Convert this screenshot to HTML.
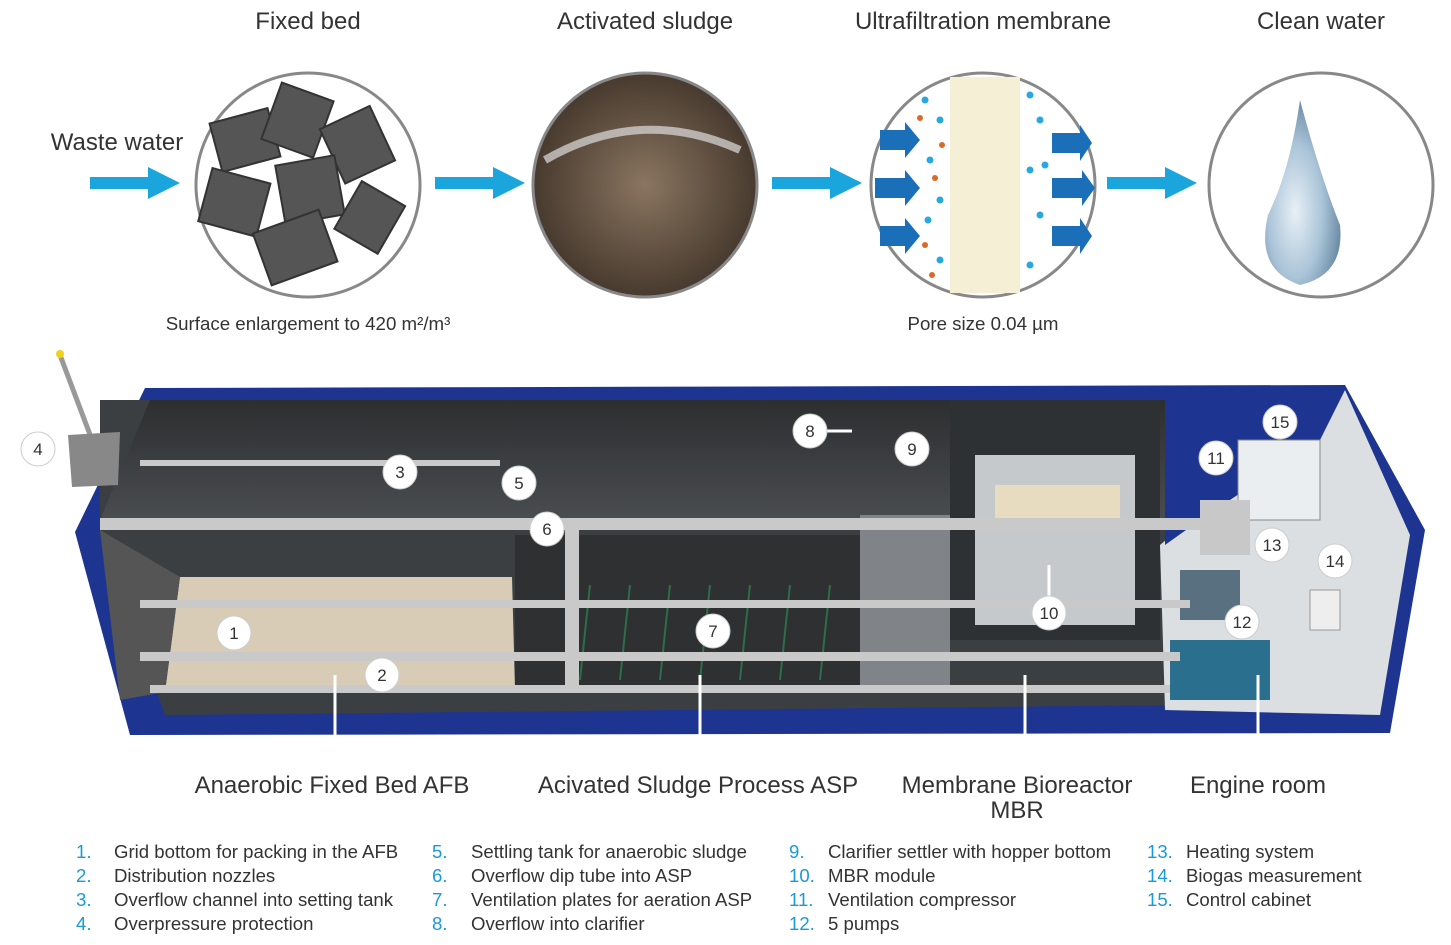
<!DOCTYPE html>
<html><head><meta charset="utf-8"><style>
body{margin:0;background:#fff;width:1451px;height:945px;overflow:hidden;font-family:"Liberation Sans",sans-serif;color:#333}
svg{position:absolute;left:0;top:0}
.t{font-family:"Liberation Sans",sans-serif;fill:#333}
</style></head><body>
<svg width="1451" height="945" viewBox="0 0 1451 945">
<defs>
<radialGradient id="sl" cx="50%" cy="50%" r="60%"><stop offset="0" stop-color="#8a7560"/><stop offset="1" stop-color="#3a2e24"/></radialGradient>
<radialGradient id="dr" cx="40%" cy="60%" r="60%"><stop offset="0" stop-color="#e8f0f6"/><stop offset="0.6" stop-color="#aac4d8"/><stop offset="1" stop-color="#6e8ea8"/></radialGradient>
<linearGradient id="back" x1="0" y1="0" x2="0" y2="1"><stop offset="0" stop-color="#2c2e30"/><stop offset="1" stop-color="#4a4d50"/></linearGradient>
</defs>
<g class="t" font-size="24" text-anchor="middle">
<text x="308" y="29">Fixed bed</text>
<text x="645" y="29">Activated sludge</text>
<text x="983" y="29">Ultrafiltration membrane</text>
<text x="1321" y="29">Clean water</text>
<text x="117" y="150">Waste water</text>
</g>
<g class="t" font-size="18.7" text-anchor="middle">
<text x="308" y="330">Surface enlargement to 420 m²/m³</text>
<text x="983" y="330">Pore size 0.04 µm</text>
</g>
<g fill="#1aa6dc">
<polygon points="90,177 148,177 148,167 180,183 148,199 148,189 90,189"/>
<polygon points="435,177 493,177 493,167 525,183 493,199 493,189 435,189"/>
<polygon points="772,177 830,177 830,167 862,183 830,199 830,189 772,189"/>
<polygon points="1107,177 1165,177 1165,167 1197,183 1165,199 1165,189 1107,189"/>
</g>
<circle cx="308" cy="185" r="112" fill="#fff" stroke="#888" stroke-width="3"/>
<g fill="#555" stroke="#333" stroke-width="2">
<rect x="215" y="115" width="60" height="50" transform="rotate(-15 245 140)"/>
<rect x="270" y="90" width="55" height="60" transform="rotate(20 297 120)"/>
<rect x="330" y="115" width="55" height="60" transform="rotate(-25 357 145)"/>
<rect x="205" y="175" width="60" height="55" transform="rotate(15 235 200)"/>
<rect x="280" y="160" width="60" height="60" transform="rotate(-10 310 190)"/>
<rect x="345" y="190" width="50" height="55" transform="rotate(30 370 217)"/>
<rect x="260" y="220" width="70" height="55" transform="rotate(-20 295 247)"/>
</g>
<circle cx="645" cy="185" r="112" fill="url(#sl)" stroke="#888" stroke-width="3"/>
<path d="M545,160 Q640,105 740,150" stroke="#ddd" stroke-width="8" fill="none" opacity=".7"/>
<circle cx="983" cy="185" r="112" fill="#fff" stroke="#888" stroke-width="3"/>
<rect x="950" y="77" width="70" height="216" fill="#f5efd6"/>
<g fill="#1a6fb8">
<polygon points="880,130 905,130 905,122 920,140 905,158 905,150 880,150"/>
<polygon points="875,178 905,178 905,170 920,188 905,206 905,198 875,198"/>
<polygon points="880,226 905,226 905,218 920,236 905,254 905,246 880,246"/>
<polygon points="1052,133 1080,133 1080,125 1092,143 1080,161 1080,153 1052,153"/>
<polygon points="1052,178 1082,178 1082,170 1095,188 1082,206 1082,198 1052,198"/>
<polygon points="1052,226 1080,226 1080,218 1092,236 1080,254 1080,246 1052,246"/>
</g>
<g fill="#27a8e0"><circle cx="925" cy="100" r="3.5"/><circle cx="940" cy="120" r="3.5"/><circle cx="930" cy="160" r="3.5"/><circle cx="940" cy="200" r="3.5"/><circle cx="928" cy="220" r="3.5"/><circle cx="940" cy="260" r="3.5"/><circle cx="1030" cy="95" r="3.5"/><circle cx="1040" cy="120" r="3.5"/><circle cx="1030" cy="170" r="3.5"/><circle cx="1040" cy="215" r="3.5"/><circle cx="1030" cy="265" r="3.5"/><circle cx="1045" cy="165" r="3.5"/></g>
<g fill="#d86a2a"><circle cx="920" cy="118" r="3"/><circle cx="935" cy="178" r="3"/><circle cx="925" cy="245" r="3"/><circle cx="942" cy="145" r="3"/><circle cx="932" cy="275" r="3"/></g>
<circle cx="1321" cy="185" r="112" fill="#fff" stroke="#888" stroke-width="3"/>
<path d="M1300,100 Q1290,170 1268,215 Q1255,270 1300,285 Q1345,275 1340,225 Q1320,175 1300,100Z" fill="url(#dr)"/>
<polygon points="145,388 1345,385 1425,530 1390,733 130,735 75,532" fill="#1d3590"/>
<polygon points="100,400 1180,400 1200,520 1180,705 165,715 100,535" fill="#3c3f42"/>
<polygon points="150,400 1165,400 1180,520 100,520" fill="url(#back)"/>
<polygon points="180,577 512,577 515,690 165,692" fill="#d8ccb6"/>
<polygon points="100,530 180,577 165,692 120,700" fill="#555"/>
<polygon points="515,535 860,535 860,690 515,690" fill="#2e3032"/>
<g stroke="#2d6e4a" stroke-width="2">
<line x1="590" y1="585" x2="580" y2="680"/><line x1="630" y1="585" x2="620" y2="680"/><line x1="670" y1="585" x2="660" y2="680"/><line x1="710" y1="585" x2="700" y2="680"/><line x1="750" y1="585" x2="740" y2="680"/><line x1="790" y1="585" x2="780" y2="680"/><line x1="830" y1="585" x2="820" y2="680"/>
</g>
<rect x="860" y="515" width="90" height="175" fill="#808488"/>
<rect x="950" y="400" width="210" height="240" fill="#2e3134"/>
<rect x="975" y="455" width="160" height="170" fill="#c6c9cc"/>
<rect x="995" y="485" width="125" height="35" fill="#e8dcc0"/>
<polygon points="1160,545 1345,390 1410,535 1380,715 1165,710" fill="#dcdfe2"/>
<polygon points="1165,545 1200,520 1320,440 1345,390 1165,400" fill="#1d3590"/>
<rect x="1238" y="440" width="82" height="80" fill="#eaeef0" stroke="#888"/>
<rect x="1310" y="590" width="30" height="40" fill="#eee" stroke="#999"/>
<rect x="1170" y="640" width="100" height="60" fill="#2a6f8e"/>
<rect x="1180" y="570" width="60" height="50" fill="#587080"/>
<rect x="1200" y="500" width="50" height="55" fill="#c8c8c8"/>
<g fill="#c9c9c9">
<rect x="100" y="518" width="1100" height="12"/>
<rect x="140" y="600" width="1050" height="8"/>
<rect x="140" y="652" width="1040" height="9"/>
<rect x="150" y="685" width="1020" height="8"/>
<rect x="140" y="460" width="360" height="6"/>
<rect x="565" y="530" width="14" height="160"/>
</g>
<line x1="60" y1="355" x2="92" y2="440" stroke="#999" stroke-width="5"/>
<circle cx="60" cy="354" r="4" fill="#ecd21a"/>
<polygon points="68,435 120,432 118,485 72,487" fill="#888"/>
<g stroke="#fff" stroke-width="3">
<line x1="335" y1="675" x2="335" y2="760"/><line x1="700" y1="675" x2="700" y2="760"/>
<line x1="1025" y1="675" x2="1025" y2="760"/><line x1="1258" y1="675" x2="1258" y2="760"/>
<line x1="827" y1="431" x2="852" y2="431"/><line x1="1049" y1="565" x2="1049" y2="600"/>
</g>
<g font-size="17" text-anchor="middle" class="t">
<g fill="#fff" stroke="#ccc" stroke-width="1">
<circle cx="38" cy="449" r="17"/><circle cx="400" cy="472" r="17"/><circle cx="519" cy="483" r="17"/><circle cx="547" cy="529" r="17"/><circle cx="234" cy="633" r="17"/><circle cx="382" cy="675" r="17"/><circle cx="713" cy="631" r="17"/><circle cx="810" cy="431" r="17"/><circle cx="912" cy="449" r="17"/><circle cx="1049" cy="613" r="17"/><circle cx="1216" cy="458" r="17"/><circle cx="1242" cy="622" r="17"/><circle cx="1272" cy="545" r="17"/><circle cx="1335" cy="561" r="17"/><circle cx="1280" cy="422" r="17"/>
</g>
<text x="38" y="455">4</text><text x="400" y="478">3</text><text x="519" y="489">5</text><text x="547" y="535">6</text><text x="234" y="639">1</text><text x="382" y="681">2</text><text x="713" y="637">7</text><text x="810" y="437">8</text><text x="912" y="455">9</text><text x="1049" y="619">10</text><text x="1216" y="464">11</text><text x="1242" y="628">12</text><text x="1272" y="551">13</text><text x="1335" y="567">14</text><text x="1280" y="428">15</text>
</g>
<g class="t" font-size="24" text-anchor="middle">
<text x="332" y="793">Anaerobic Fixed Bed AFB</text>
<text x="698" y="793">Acivated Sludge Process ASP</text>
<text x="1017" y="793">Membrane Bioreactor</text>
<text x="1017" y="818">MBR</text>
<text x="1258" y="793">Engine room</text>
</g>
<g font-size="18.6" class="t">
<g fill="#1a9ad6">
<text x="76" y="858">1.</text><text x="76" y="882">2.</text><text x="76" y="906">3.</text><text x="76" y="930">4.</text>
<text x="432" y="858">5.</text><text x="432" y="882">6.</text><text x="432" y="906">7.</text><text x="432" y="930">8.</text>
<text x="789" y="858">9.</text><text x="789" y="882">10.</text><text x="789" y="906">11.</text><text x="789" y="930">12.</text>
<text x="1147" y="858">13.</text><text x="1147" y="882">14.</text><text x="1147" y="906">15.</text>
</g>
<text x="114" y="858">Grid bottom for packing in the AFB</text>
<text x="114" y="882">Distribution nozzles</text>
<text x="114" y="906">Overflow channel into setting tank</text>
<text x="114" y="930">Overpressure protection</text>
<text x="471" y="858">Settling tank for anaerobic sludge</text>
<text x="471" y="882">Overflow dip tube into ASP</text>
<text x="471" y="906">Ventilation plates for aeration ASP</text>
<text x="471" y="930">Overflow into clarifier</text>
<text x="828" y="858">Clarifier settler with hopper bottom</text>
<text x="828" y="882">MBR module</text>
<text x="828" y="906">Ventilation compressor</text>
<text x="828" y="930">5 pumps</text>
<text x="1186" y="858">Heating system</text>
<text x="1186" y="882">Biogas measurement</text>
<text x="1186" y="906">Control cabinet</text>
</g>
</svg>
</body></html>
